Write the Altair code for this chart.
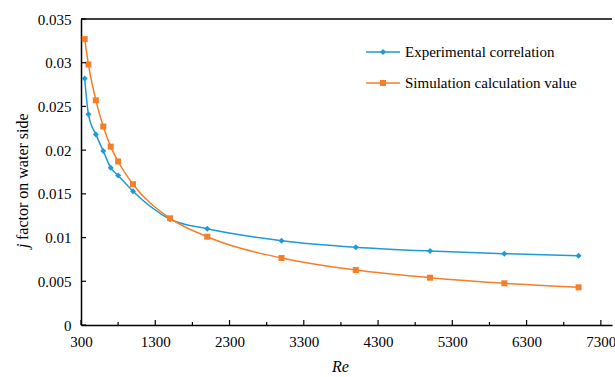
import altair as alt
import pandas as pd

# ---- data ----
re_values = [350, 400, 500, 600, 700, 800, 1000, 1500, 2000, 3000, 4000, 5000, 6000, 7000]
j_experimental = [0.0282, 0.0241, 0.0218, 0.0199, 0.0180, 0.0171, 0.0153, 0.0121,
                  0.0110, 0.00965, 0.0089, 0.00846, 0.00816, 0.00793]
j_simulation = [0.0327, 0.0298, 0.0257, 0.0227, 0.0204, 0.0187, 0.0161, 0.0122,
                0.0101, 0.00766, 0.00629, 0.00541, 0.00477, 0.00431]
series_names = ["Experimental correlation", "Simulation calculation value"]
series_colors = ["#1E9AD6", "#F57E27"]
series_shapes = ["diamond", "square"]
x_major_ticks = [300, 1300, 2300, 3300, 4300, 5300, 6300, 7300]
x_minor_ticks = [800, 1800, 2800, 3800, 4800, 5800, 6800]
y_ticks = [0, 0.005, 0.01, 0.015, 0.02, 0.025, 0.03, 0.035]

W, H = 531, 306
FONT = "Liberation Serif"

df = pd.DataFrame({
    "Re": re_values * 2,
    "j": j_experimental + j_simulation,
    "series": [series_names[0]] * len(re_values) + [series_names[1]] * len(re_values),
})

x_scale = alt.Scale(domain=[300, 7450], nice=False, zero=False)
y_scale = alt.Scale(domain=[0, 0.035], nice=False, zero=True)
color_scale = alt.Scale(domain=series_names, range=series_colors)
shape_scale = alt.Scale(domain=series_names, range=series_shapes)

x_axis = alt.Axis(values=x_major_ticks, format="d", ticks=False, tickSize=0, grid=False,
                  labelFont=FONT, labelFontSize=15, labelColor="black", labelPadding=9,
                  labelFlush=False, domainColor="black", domainWidth=1.5,
                  title="Re", titleFont=FONT, titleFontSize=16, titleFontStyle="italic",
                  titleFontWeight="normal", titleColor="black", titleX=259, titleY=41,
                  titleBaseline="middle", titleAlign="center", titleAnchor="start")
y_axis = alt.Axis(values=y_ticks, format="~g", ticks=False, tickSize=0, grid=False,
                  labelFont=FONT, labelFontSize=15, labelColor="black", labelPadding=10,
                  domainColor="black", domainWidth=1.5, title=None)

base = alt.Chart(df)

lines = base.mark_line(interpolate="monotone", strokeWidth=1.5).encode(
    x=alt.X("Re:Q", scale=x_scale, axis=x_axis),
    y=alt.Y("j:Q", scale=y_scale, axis=y_axis),
    color=alt.Color("series:N", scale=color_scale, legend=None),
)

points = base.mark_point(filled=True, opacity=1, size=36).encode(
    x=alt.X("Re:Q"),
    y=alt.Y("j:Q"),
    color=alt.Color("series:N", scale=color_scale, legend=None),
    shape=alt.Shape("series:N", scale=shape_scale, legend=None),
)

# ---- legend drawn inside the plot (line + marker + label) ----
legend_df = pd.DataFrame({"series": series_names})
legend_rows_y = [33, 64]
legend_layers = []
for name, yy in zip(series_names, legend_rows_y):
    src = alt.Chart(legend_df).transform_filter(alt.datum.series == name)
    legend_layers.append(src.mark_rule(strokeWidth=1.5).encode(
        x=alt.value(285), x2=alt.value(319), y=alt.value(yy),
        color=alt.Color("series:N", scale=color_scale, legend=None)))
    legend_layers.append(src.mark_point(filled=True, opacity=1, size=36).encode(
        x=alt.value(302), y=alt.value(yy),
        color=alt.Color("series:N", scale=color_scale, legend=None),
        shape=alt.Shape("series:N", scale=shape_scale, legend=None)))
    legend_layers.append(src.mark_text(align="left", baseline="middle", font=FONT,
                                       fontSize=15, color="black").encode(
        text="series:N", x=alt.value(324), y=alt.value(yy)))

x_major = alt.Chart(pd.DataFrame({"Re": x_major_ticks})).mark_rule(color="black", strokeWidth=1.2).encode(
    x=alt.X("Re:Q"), y=alt.value(H), y2=alt.value(H - 5))
x_minor = alt.Chart(pd.DataFrame({"Re": x_minor_ticks})).mark_rule(color="black", strokeWidth=1.2).encode(
    x=alt.X("Re:Q"), y=alt.value(H), y2=alt.value(H - 3))
y_major = alt.Chart(pd.DataFrame({"j": y_ticks})).mark_rule(color="black", strokeWidth=1.2).encode(
    y=alt.Y("j:Q"), x=alt.value(0), x2=alt.value(5))

top_border = alt.Chart(pd.DataFrame({"k": [0]})).mark_rule(color="black", strokeWidth=1.5).encode(
    x=alt.value(0), x2=alt.value(W), y=alt.value(0))

title_j = alt.Chart(pd.DataFrame({"t": ["j"]})).mark_text(
    angle=270, align="left", baseline="middle", font=FONT, fontSize=16, fontStyle="italic",
    color="black").encode(text="t:N", x=alt.value(-58), y=alt.value(229))
title_rest = alt.Chart(pd.DataFrame({"t": ["factor on water side"]})).mark_text(
    angle=270, align="left", baseline="middle", font=FONT, fontSize=16,
    color="black").encode(text="t:N", x=alt.value(-58), y=alt.value(221))

chart = alt.layer(
    lines, points, x_major, x_minor, y_major, top_border, title_j, title_rest, *legend_layers
).properties(
    width=W, height=H,
    padding={"left": 81, "top": 19, "right": 3, "bottom": 52},
    autosize=alt.AutoSizeParams(type="none"),
    background="white",
).configure_view(stroke=None)

chart.save("out.html", embed_options={"renderer": "svg", "actions": False})
